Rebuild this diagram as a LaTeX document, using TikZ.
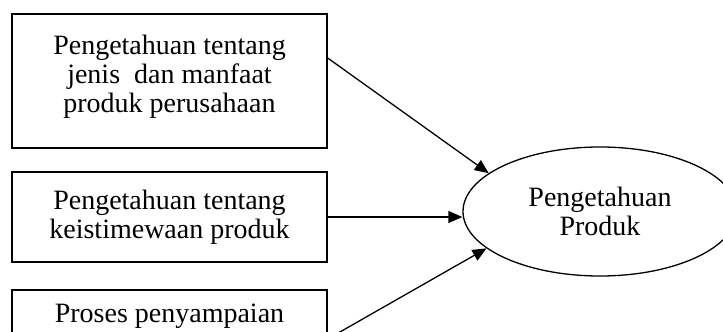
\documentclass[tikz,border=0pt]{standalone}
\usepackage{fontspec}
\setmainfont{Liberation Serif}
\usetikzlibrary{shapes.geometric, arrows.meta, positioning}

\begin{document}
\begin{tikzpicture}[
    x=1pt, y=-1pt,
    every node/.style={font=\fontsize{28}{29}\selectfont, align=center},
    box/.style={rectangle, draw=black, fill=white, line width=1.3pt, minimum width=315pt, inner sep=0pt},
    construct/.style={ellipse, draw=black, fill=white, line width=1.3pt, minimum width=274pt, minimum height=129pt, inner sep=0pt},
    arrow/.style={-{Triangle[length=14pt, width=12pt]}, draw=black, line width=1.3pt}
  ]
    \useasboundingbox (0,0) rectangle (723,332);
    \clip (0,0) rectangle (723,332);

    % Indicators
    \node[box, minimum height=134pt] (jenis) at (169.5,81) {Pengetahuan tentang\\jenis\ \ dan manfaat\\produk perusahaan\rule[-15pt]{0pt}{0pt}};
    \node[box, minimum height=90pt] (istimewa) at (169.5,217) {Pengetahuan tentang\\keistimewaan produk};
    \node[box, minimum height=98pt, label={[anchor=north, inner sep=0pt, yshift=-14pt]north:Proses penyampaian}] (proses) at (169.5,339) {};

    % Construct
    \node[construct] (produk) at (600,211.5) {Pengetahuan\\Produk};

    % Connections
    \draw[arrow] ([yshift=23pt]jenis.east) -- (produk.161);
    \draw[arrow] (istimewa.east) -- (istimewa.east -| produk.west);
    \draw[arrow] (proses.east) -- (produk.198);
\end{tikzpicture}
\end{document}
